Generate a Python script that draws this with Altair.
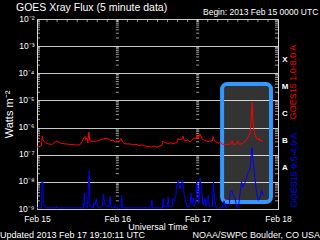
import altair as alt
import pandas as pd

# ---- data (hours since 2013 Feb 15 00:00 UTC) ----
red_hours = [0, 0.9, 1.3, 1.58, 1.8, 2.4, 3.3, 4.5, 5.4, 6.0,
             6.9, 8.4, 9.9, 11.4, 12.8, 13.4, 14.0, 14.3, 14.6, 14.9,
             15.2, 15.5, 15.8, 16.7, 17.9, 18.8, 19.7, 20.6, 21.5, 22.1,
             22.7, 23.3, 23.9, 24.5, 25.1, 25.4, 26.0, 26.9, 27.8, 28.7,
             29.6, 30.5, 31.4, 32.3, 33.2, 34.1, 35.0, 35.9, 36.7, 37.3,
             37.6, 38.2, 39.1, 40.0, 40.9, 41.8, 42.1, 42.7, 43.3, 43.6,
             43.9, 44.5, 45.1, 45.7, 46.3, 46.9, 47.5, 47.8, 48.1, 48.7,
             49.3, 49.9, 50.5, 51.1, 51.7, 52.3, 52.6, 52.9, 53.5, 54.1,
             54.7, 55.3, 56.2, 57.1, 57.7, 58.3, 58.6, 59.5, 60.1, 60.4,
             61.3, 61.8, 62.4, 62.9, 63.3, 63.6, 63.9, 64.1, 64.3, 64.5,
             64.7, 65.0, 65.3, 65.6, 66.0, 66.3, 66.6, 66.9, 67.2, 67.5]
red_flux = [1.9e-7, 2.1e-7, 2.2e-7, 4.9e-7, 3.5e-7, 2.8e-7, 2.5e-7, 2.4e-7, 2.95e-7, 3.2e-7,
            2.7e-7, 2.5e-7, 2.4e-7, 2.3e-7, 2.3e-7, 2.95e-7, 4.2e-7, 4.7e-7, 3.5e-7, 4.2e-7,
            2.7e-7, 6.9e-7, 3.2e-7, 3.1e-7, 3.2e-7, 3.5e-7, 3.8e-7, 4.0e-7, 3.8e-7, 3.3e-7,
            3.5e-7, 2.95e-7, 3.1e-7, 2.95e-7, 4.0e-7, 3.2e-7, 2.6e-7, 2.5e-7, 2.5e-7, 2.3e-7,
            2.4e-7, 2.2e-7, 2.3e-7, 2.1e-7, 2.0e-7, 1.9e-7, 2.1e-7, 1.9e-7, 2.1e-7, 2.2e-7,
            3.2e-7, 2.8e-7, 2.6e-7, 2.7e-7, 2.6e-7, 2.8e-7, 4.0e-7, 3.5e-7, 3.8e-7, 4.9e-7,
            3.5e-7, 3.2e-7, 3.6e-7, 2.95e-7, 3.4e-7, 4.2e-7, 3.8e-7, 5.4e-7, 3.8e-7, 5.8e-7,
            3.8e-7, 3.5e-7, 3.2e-7, 3.1e-7, 3.2e-7, 3.2e-7, 4.7e-7, 3.5e-7, 2.95e-7, 2.7e-7,
            2.95e-7, 2.45e-7, 2.4e-7, 2.45e-7, 2.4e-7, 3.3e-7, 2.45e-7, 2.45e-7, 3.2e-7, 2.45e-7,
            2.55e-7, 2.95e-7, 3.2e-7, 4.2e-7, 4.9e-7, 6.3e-7, 1.26e-6, 3.7e-6, 8.3e-6, 2.2e-6,
            9.5e-7, 6.3e-7, 4.9e-7, 4.0e-7, 3.5e-7, 4.2e-7, 3.2e-7, 3.5e-7, 3.1e-7, 3.2e-7]

blue_hours = [0, 1.34, 1.49, 1.7, 1.88, 2.24, 2.5, 5.68, 5.9, 6.1,
              13.9, 14.13, 14.3, 15.1, 15.3, 15.6, 15.8, 16.8, 17.0, 17.4,
              17.7, 18.0, 18.5, 19.6, 19.8, 20.1, 20.3, 20.6, 21.5, 21.8,
              22.1, 23.0, 23.3, 23.6, 25.1, 25.3, 25.5, 34.1, 34.3, 34.5,
              37.5, 37.7, 37.9, 38.9, 39.2, 39.4, 40.4, 40.7, 41.1, 41.5,
              41.7, 42.2, 42.7, 43.0, 43.5, 44.0, 44.4, 44.8, 45.7, 46.0,
              46.3, 46.7, 47.0, 47.5, 47.7, 48.2, 48.4, 48.7, 49.2, 49.6,
              50.2, 50.5, 51.2, 51.5, 52.4, 52.7, 53.0, 53.2, 53.5, 55.3,
              55.9, 56.5, 57.4, 57.7, 58.2, 58.6, 59.2, 59.6, 60.1, 60.6,
              61.1, 61.5, 62.1, 62.5, 62.9, 63.3, 63.6, 63.9, 64.1, 64.3,
              64.5, 64.9, 65.3, 65.6, 66.1, 66.6, 67.1, 67.6]
blue_flux = [1.1e-9, 1.1e-9, 1.0e-8, 1.0e-8, 1.6e-9, 1.4e-9, 1.1e-9, 1.1e-9, 1.26e-9, 1.1e-9,
             1.1e-9, 3.9e-9, 1.26e-9, 1.1e-9, 4.5e-9, 2.45e-8, 1.26e-9, 1.1e-9, 1.7e-9, 1.4e-9,
             2.5e-9, 1.26e-9, 1.1e-9, 1.26e-9, 3.5e-9, 2.0e-9, 1.6e-9, 1.26e-9, 1.26e-9, 3.0e-9,
             1.2e-9, 1.1e-9, 1.4e-9, 1.1e-9, 1.1e-9, 3.3e-9, 1.1e-9, 1.1e-9, 2.1e-9, 1.1e-9,
             1.1e-9, 2.5e-9, 1.2e-9, 1.26e-9, 2.8e-9, 1.2e-9, 1.26e-9, 2.5e-9, 2.0e-9, 3.2e-9,
             6.8e-9, 1.17e-8, 5.5e-9, 7.9e-9, 1.17e-8, 3.3e-9, 2.0e-9, 1.2e-9, 1.26e-9, 3.9e-9,
             1.6e-9, 2.5e-9, 1.26e-9, 2.0e-9, 1.02e-8, 3.3e-9, 1.6e-9, 1.4e-8, 5.0e-9, 1.4e-9,
             2.5e-9, 1.26e-9, 3.2e-9, 1.26e-9, 1.26e-9, 1.02e-8, 2.5e-9, 2.0e-9, 1.1e-9, 1.1e-9,
             2.0e-9, 1.1e-9, 1.26e-9, 4.0e-9, 5.0e-9, 3.2e-9, 2.5e-9, 1.26e-9, 1.1e-9, 3.2e-9,
             1.0e-8, 6.3e-9, 9.1e-9, 1.26e-8, 2.0e-8, 2.5e-8, 2.8e-8, 6.3e-8, 1.4e-7, 1.8e-7,
             6.3e-8, 2.5e-8, 7.9e-9, 4.0e-9, 2.1e-9, 2.5e-9, 5.0e-9, 3.2e-9]

day_labels = ["Feb 15", "Feb 16", "Feb 17", "Feb 18"]
day_hours = [0, 24, 48, 72]
decades = [1e-9, 1e-8, 1e-7, 1e-6, 1e-5, 1e-4, 1e-3, 1e-2]
class_labels = ["X", "M", "C", "B", "A"]
class_centers = [3.16e-4, 3.16e-5, 3.16e-6, 3.16e-7, 3.16e-8]
box_hours = [55.3, 69.9]
box_flux = [1.8e-9, 4.0e-5]

red_df = pd.DataFrame({"h": red_hours, "v": red_flux})
blue_df = pd.DataFrame({"h": blue_hours, "v": blue_flux})
minor_vals = [m * d for d in decades[:-1] for m in range(2, 10)]
edge_ticks = pd.DataFrame([{"h": h, "v": v} for h in [0, 72] for v in minor_vals])
mid_ticks = pd.DataFrame([{"h": h, "v": v} for h in [24, 48] for v in minor_vals])
top_ticks = pd.DataFrame({"h": list(range(3, 72, 3)), "v": [1e-2] * 23})
class_df = pd.DataFrame({"t": class_labels, "v": class_centers})
box_df = pd.DataFrame({"h": [box_hours[0]], "h2": [box_hours[1]],
                       "v": [box_flux[0]], "v2": [box_flux[1]]})

FONT = "Liberation Sans"
sup = "['⁰','¹','²','³','⁴','⁵','⁶','⁷','⁸','⁹']"

X = alt.X("h:Q", scale=alt.Scale(domain=[0, 72], nice=False, zero=False),
          axis=alt.Axis(values=day_hours,
                        labelExpr="['Feb 15','Feb 16','Feb 17','Feb 18'][round(datum.value/24)]",
                        ticks=False, domain=False, grid=False, labelFlush=False,
                        labelOverlap=False, title="Universal Time",
                        labelColor="white", titleColor="white", labelFontSize=8.5,
                        titleFontSize=9, titleFontWeight="normal", labelPadding=5,
                        titlePadding=0, labelFont=FONT, titleFont=FONT))
Y = alt.Y("v:Q", scale=alt.Scale(type="log", domain=[1e-9, 1e-2], nice=False),
          axis=alt.Axis(values=decades,
                        labelExpr="'10⁻' + " + sup + "[round(-log(datum.value)/LN10)]",
                        ticks=False, domain=False, grid=True, gridColor="#c8c8c8",
                        gridWidth=1, title="Watts m⁻²", labelColor="white",
                        titleColor="white", labelFontSize=8.5, titleFontSize=11,
                        titleFontWeight="normal", labelPadding=3, titlePadding=3,
                        labelOffset=-1, labelFont=FONT, titleFont=FONT))

box = alt.Chart(box_df).mark_rect(cornerRadius=5, fill="white", fillOpacity=0.2,
                                  stroke="#3399ff", strokeWidth=4).encode(
    x=X, x2="h2:Q", y=Y, y2="v2:Q")

edge = alt.Chart(edge_ticks).mark_tick(orient="horizontal", size=6, thickness=1,
                                       color="#e0e0e0", clip=True).encode(x=X, y=Y)
mid = alt.Chart(mid_ticks).mark_tick(orient="horizontal", size=3, thickness=1,
                                     color="#e0e0e0", clip=True).encode(x=X, y=Y)
top = alt.Chart(top_ticks).mark_tick(orient="vertical", size=6, thickness=1,
                                     color="#e0e0e0", clip=True).encode(x=X, y=Y)

red = alt.Chart(red_df).mark_line(color="#ff0000", strokeWidth=1, clip=True).encode(x=X, y=Y)
blue = alt.Chart(blue_df).mark_line(color="#0000ff", strokeWidth=1, clip=True).encode(x=X, y=Y)

classes = alt.Chart(class_df).mark_text(color="white", fontSize=8, fontWeight="bold",
                                        font=FONT).encode(x=alt.value(248), y=Y, text="t:N")


def label(txt, x, y, size=9, color="white", align="left", angle=0):
    return alt.Chart(alt.Data(values=[{"a": 1}])).mark_text(
        text=txt, color=color, fontSize=size, align=align, baseline="middle",
        angle=angle, font=FONT).encode(x=alt.value(x), y=alt.value(y))


texts = [
    label("GOES Xray Flux (5 minute data)", -21, -11, size=10.5),
    label("Begin:  2013 Feb 15 0000 UTC", 166, -7, size=8.5),
    label("Updated 2013 Feb 17 19:10:11 UTC", -37, 216, size=9),
    label("NOAA/SWPC Boulder, CO USA", 283, 216, size=9, align="right"),
    label("GOES15 1.0-8.0 A", 256, 63, size=9, color="#ff0000", align="center", angle=270),
    label("GOES15 0.5-4.0 A", 257, 151, size=9, color="#0000ff", align="center", angle=270),
]

chart = alt.layer(box, edge, mid, top, red, blue, classes, *texts).properties(
    width=241, height=190,
    autosize=alt.AutoSizeParams(type="none"),
    padding={"left": 37, "top": 19, "right": 42, "bottom": 31},
    background="black",
).configure_view(stroke="#d8d8d8", strokeWidth=1)

chart.save("out.html", embed_options={"renderer": "svg", "actions": False})
